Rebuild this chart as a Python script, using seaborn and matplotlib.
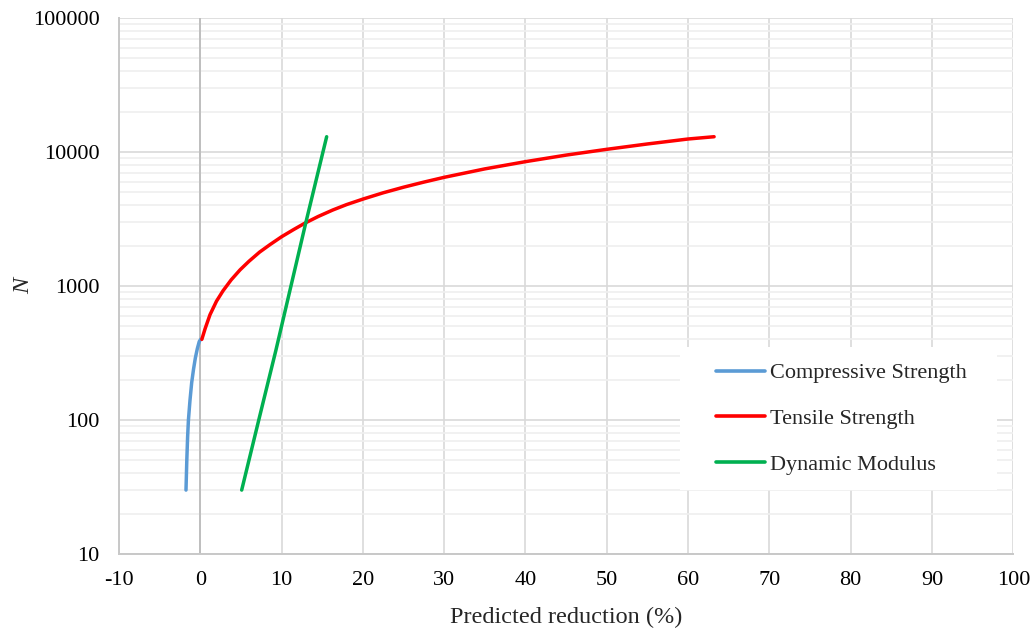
import numpy as np
import pandas as pd
import matplotlib
matplotlib.use("Agg")
import matplotlib.pyplot as plt
import seaborn as sns
from matplotlib.patches import Rectangle
from matplotlib.ticker import LogLocator, FixedLocator, NullFormatter

# Predicted reduction (%) versus number of cycles N for each property
comp_x = [-1.75, -1.65, -1.55, -1.45, -1.26, -1.05, -0.82, -0.60, -0.36, -0.12, 0.05]
comp_n = [30, 50, 75, 100, 140, 190, 240, 290, 340, 385, 400]

tens_x = [0.2, 0.6, 1.2, 2.0, 2.8, 3.8, 4.9, 6.0, 7.3, 8.6, 10.0, 11.5, 12.9, 14.5,
          16.3, 18.0, 20.0, 22.5, 25.0, 27.5, 30.0, 35.0, 40.0, 45.0, 50.0, 55.0,
          60.0, 63.2]
tens_n = [400, 480, 610, 770, 920, 1110, 1320, 1530, 1790, 2040, 2330, 2640, 2950, 3300,
          3690, 4050, 4450, 4960, 5460, 5960, 6470, 7480, 8470, 9480, 10470, 11480,
          12500, 13000]

dyn_x = [5.1, 7.2, 9.3, 12.97, 15.55]
dyn_n = [30, 100, 330, 2940, 13000]

labels = ["Compressive Strength", "Tensile Strength", "Dynamic Modulus"]
colors = ["#5B9BD5", "#FF0000", "#00B050"]

x_ticks = [-10, 0, 10, 20, 30, 40, 50, 60, 70, 80, 90, 100]
y_ticks = [10, 100, 1000, 10000, 100000]
y_tick_labels = ["10", "100", "1000", "10000", "100000"]

df = pd.concat([
    pd.DataFrame({"x": comp_x, "N": comp_n, "series": labels[0]}),
    pd.DataFrame({"x": tens_x, "N": tens_n, "series": labels[1]}),
    pd.DataFrame({"x": dyn_x, "N": dyn_n, "series": labels[2]}),
], ignore_index=True)

sns.set_theme(style="white")
plt.rcParams["font.family"] = ["Liberation Serif", "DejaVu Serif"]
plt.rcParams["axes.unicode_minus"] = False

fig = plt.figure(figsize=(10.34, 6.31), dpi=100)
ax = fig.add_axes([0.115, 0.122, 0.865, 0.8495])
ax.set_axisbelow(True)

ax.set_yscale("log")
ax.set_xlim(-10, 100)
ax.set_ylim(10, 100000)

# grid: light major lines, lighter log minor lines
ax.yaxis.set_minor_locator(LogLocator(base=10, subs=np.arange(2, 10)))
ax.yaxis.set_minor_formatter(NullFormatter())
ax.grid(True, which="minor", axis="y", color="#efefef", lw=1.2)
ax.grid(True, which="major", axis="both", color="#d9d9d9", lw=1.2)
ax.axvline(0, color="#bfbfbf", lw=1.4, zorder=1)

sns.lineplot(data=df, x="x", y="N", hue="series", hue_order=labels,
             palette=colors, sort=False, estimator=None,
             lw=2.5, ax=ax, legend=True, zorder=3)

ax.xaxis.set_major_locator(FixedLocator(x_ticks))
ax.yaxis.set_major_locator(FixedLocator(y_ticks))
ax.set_yticklabels(y_tick_labels)
ax.tick_params(axis="both", which="both", length=0, labelsize=16, colors="black")
ax.tick_params(axis="y", pad=14)
ax.tick_params(axis="x", pad=12)

for s in ["top", "right"]:
    ax.spines[s].set_visible(False)
for s in ["left", "bottom"]:
    ax.spines[s].set_color("#c8c8c8")
    ax.spines[s].set_linewidth(1.4)

ax.set_xlabel("Predicted reduction (%)", fontsize=17.5, labelpad=12.5)
ax.set_ylabel("N", fontsize=17.5, style="italic", labelpad=-1)

# white panel behind the legend entries
ax.add_patch(Rectangle((0.6275, 0.119), 0.3545, 0.267, transform=ax.transAxes,
                       facecolor="white", edgecolor="none", zorder=2))

leg = ax.legend(loc="center left", bbox_to_anchor=(0.668, 0.252), frameon=False,
                fontsize=16, handlelength=2.2, handletextpad=0.23,
                labelspacing=1.14, borderpad=0.0, borderaxespad=0.0)
for line in leg.get_lines():
    line.set_linewidth(2.6)
leg.set_zorder(5)

fig.savefig("out.png", dpi=100, facecolor="white")
